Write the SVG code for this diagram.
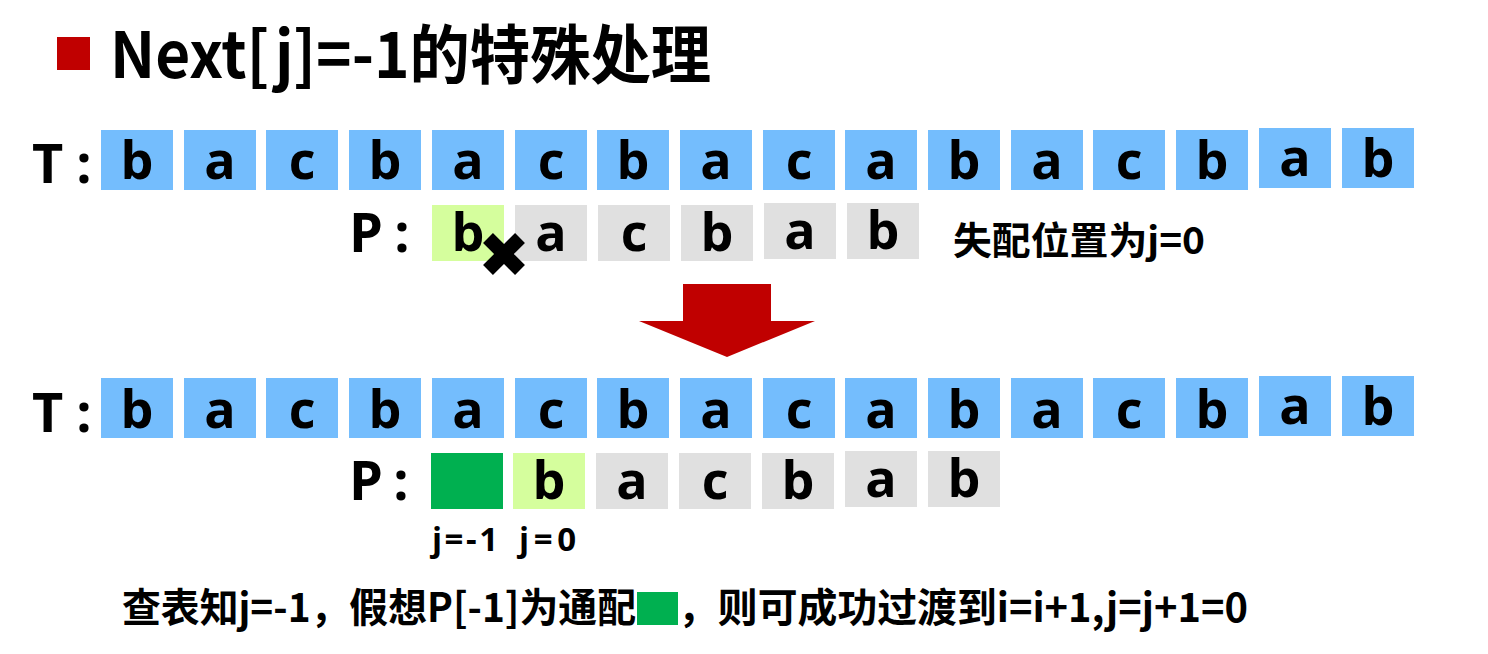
<svg xmlns="http://www.w3.org/2000/svg" width="1488" height="654" viewBox="0 0 1488 654">
<style>
.tb{fill:#74BDFD}
.gb{fill:#E0E0E0}
.lg{fill:#D5FE9D}
.dg{fill:#00B050}
.ch{font-family:"Open Sans","Noto Sans",sans-serif;font-weight:bold;font-size:52px;text-anchor:middle;fill:#000}
.lb{font-family:"Open Sans","Noto Sans",sans-serif;font-weight:bold;font-size:54px;fill:#000}
.cn{font-family:"Noto Sans CJK SC","Noto Sans",sans-serif;font-weight:bold;fill:#000}
.jl{font-family:"Open Sans","Noto Sans",sans-serif;font-weight:bold;font-size:33px;fill:#000}
</style>
<rect width="1488" height="654" fill="#fff"/>

<g id="title">
<rect x="57" y="37" width="33" height="33" fill="#C00000"/>
<text class="cn" x="110" y="78" font-size="64" textLength="601" lengthAdjust="spacingAndGlyphs">Next[j]=-1的特殊处理</text>
</g>

<g id="T-top">
<text class="lb" x="32" y="183">T</text>
<text class="lb" x="84" y="183" text-anchor="middle">:</text>
<rect class="tb" x="101" y="130" width="72" height="60"/><text class="ch" x="137" y="179">b</text>
<rect class="tb" x="184" y="130" width="72" height="60"/><text class="ch" x="220" y="179">a</text>
<rect class="tb" x="266" y="130" width="72" height="60"/><text class="ch" x="302" y="179">c</text>
<rect class="tb" x="349" y="130" width="72" height="60"/><text class="ch" x="385" y="179">b</text>
<rect class="tb" x="432" y="130" width="72" height="60"/><text class="ch" x="468" y="179">a</text>
<rect class="tb" x="515" y="130" width="72" height="60"/><text class="ch" x="551" y="179">c</text>
<rect class="tb" x="597" y="130" width="72" height="60"/><text class="ch" x="633" y="179">b</text>
<rect class="tb" x="680" y="130" width="72" height="60"/><text class="ch" x="716" y="179">a</text>
<rect class="tb" x="763" y="130" width="72" height="60"/><text class="ch" x="799" y="179">c</text>
<rect class="tb" x="845" y="130" width="72" height="60"/><text class="ch" x="881" y="179">a</text>
<rect class="tb" x="928" y="130" width="72" height="60"/><text class="ch" x="964" y="179">b</text>
<rect class="tb" x="1011" y="130" width="72" height="60"/><text class="ch" x="1047" y="179">a</text>
<rect class="tb" x="1093" y="130" width="72" height="60"/><text class="ch" x="1129" y="179">c</text>
<rect class="tb" x="1176" y="130" width="72" height="60"/><text class="ch" x="1212" y="179">b</text>
<rect class="tb" x="1259" y="128" width="72" height="60"/><text class="ch" x="1295" y="176">a</text>
<rect class="tb" x="1342" y="128" width="72" height="60"/><text class="ch" x="1378" y="177">b</text>
</g>

<g id="P-top">
<text class="lb" x="349" y="252">P</text>
<text class="lb" x="402" y="252" text-anchor="middle">:</text>
<rect class="lg" x="432" y="205" width="72" height="56"/><text class="ch" x="468" y="251">b</text>
<rect class="gb" x="515" y="205" width="72" height="56"/><text class="ch" x="551" y="251">a</text>
<rect class="gb" x="598" y="205" width="72" height="56"/><text class="ch" x="634" y="251">c</text>
<rect class="gb" x="681" y="205" width="72" height="56"/><text class="ch" x="717" y="251">b</text>
<rect class="gb" x="764" y="203" width="72" height="56"/><text class="ch" x="800" y="249">a</text>
<rect class="gb" x="847" y="203" width="72" height="56"/><text class="ch" x="883" y="249">b</text>
</g>

<g id="mismatch-mark">
<path d="M488 238 L520 270 M520 238 L488 270" stroke="#000" stroke-width="14" fill="none"/>
</g>

<g id="mismatch-note">
<text class="cn" x="953" y="254" font-size="38" textLength="252" lengthAdjust="spacingAndGlyphs">失配位置为j=0</text>
</g>

<g id="connectors">
<path d="M683 284 H771 V321 H815 L727 357 L639 321 H683 Z" fill="#C00000"/>
</g>

<g id="T-bottom">
<text class="lb" x="32" y="432">T</text>
<text class="lb" x="84" y="432" text-anchor="middle">:</text>
<rect class="tb" x="101" y="378" width="72" height="60"/><text class="ch" x="137" y="428">b</text>
<rect class="tb" x="184" y="378" width="72" height="60"/><text class="ch" x="220" y="428">a</text>
<rect class="tb" x="266" y="378" width="72" height="60"/><text class="ch" x="302" y="428">c</text>
<rect class="tb" x="349" y="378" width="72" height="60"/><text class="ch" x="385" y="428">b</text>
<rect class="tb" x="432" y="378" width="72" height="60"/><text class="ch" x="468" y="428">a</text>
<rect class="tb" x="515" y="378" width="72" height="60"/><text class="ch" x="551" y="428">c</text>
<rect class="tb" x="597" y="378" width="72" height="60"/><text class="ch" x="633" y="428">b</text>
<rect class="tb" x="680" y="378" width="72" height="60"/><text class="ch" x="716" y="428">a</text>
<rect class="tb" x="763" y="378" width="72" height="60"/><text class="ch" x="799" y="428">c</text>
<rect class="tb" x="845" y="378" width="72" height="60"/><text class="ch" x="881" y="428">a</text>
<rect class="tb" x="928" y="378" width="72" height="60"/><text class="ch" x="964" y="428">b</text>
<rect class="tb" x="1011" y="378" width="72" height="60"/><text class="ch" x="1047" y="428">a</text>
<rect class="tb" x="1093" y="378" width="72" height="60"/><text class="ch" x="1129" y="428">c</text>
<rect class="tb" x="1176" y="378" width="72" height="60"/><text class="ch" x="1212" y="428">b</text>
<rect class="tb" x="1259" y="376" width="72" height="60"/><text class="ch" x="1295" y="424">a</text>
<rect class="tb" x="1342" y="376" width="72" height="60"/><text class="ch" x="1378" y="425">b</text>
</g>

<g id="P-bottom">
<text class="lb" x="349" y="500">P</text>
<text class="lb" x="401" y="500" text-anchor="middle">:</text>
<rect class="dg" x="431" y="453" width="72" height="56"/>
<rect class="lg" x="513" y="453" width="72" height="56"/><text class="ch" x="549" y="499">b</text>
<rect class="gb" x="596" y="453" width="72" height="56"/><text class="ch" x="632" y="499">a</text>
<rect class="gb" x="679" y="453" width="72" height="56"/><text class="ch" x="715" y="499">c</text>
<rect class="gb" x="762" y="453" width="72" height="56"/><text class="ch" x="798" y="499">b</text>
<rect class="gb" x="845" y="451" width="72" height="56"/><text class="ch" x="881" y="497">a</text>
<rect class="gb" x="928" y="451" width="72" height="56"/><text class="ch" x="964" y="497">b</text>
</g>

<g id="index-labels">
<text class="jl" x="432" y="551" textLength="66" lengthAdjust="spacing">j=-1</text>
<text class="jl" x="519" y="551" textLength="57" lengthAdjust="spacing">j=0</text>
</g>

<g id="conclusion">
<text class="cn" x="122" y="622" font-size="40" textLength="514" lengthAdjust="spacingAndGlyphs">查表知j=-1，假想P[-1]为通配</text>
<rect class="dg" x="637" y="592" width="41" height="33"/>
<text class="cn" x="678" y="622" font-size="40" textLength="570" lengthAdjust="spacingAndGlyphs">，则可成功过渡到i=i+1,j=j+1=0</text>
</g>
</svg>
